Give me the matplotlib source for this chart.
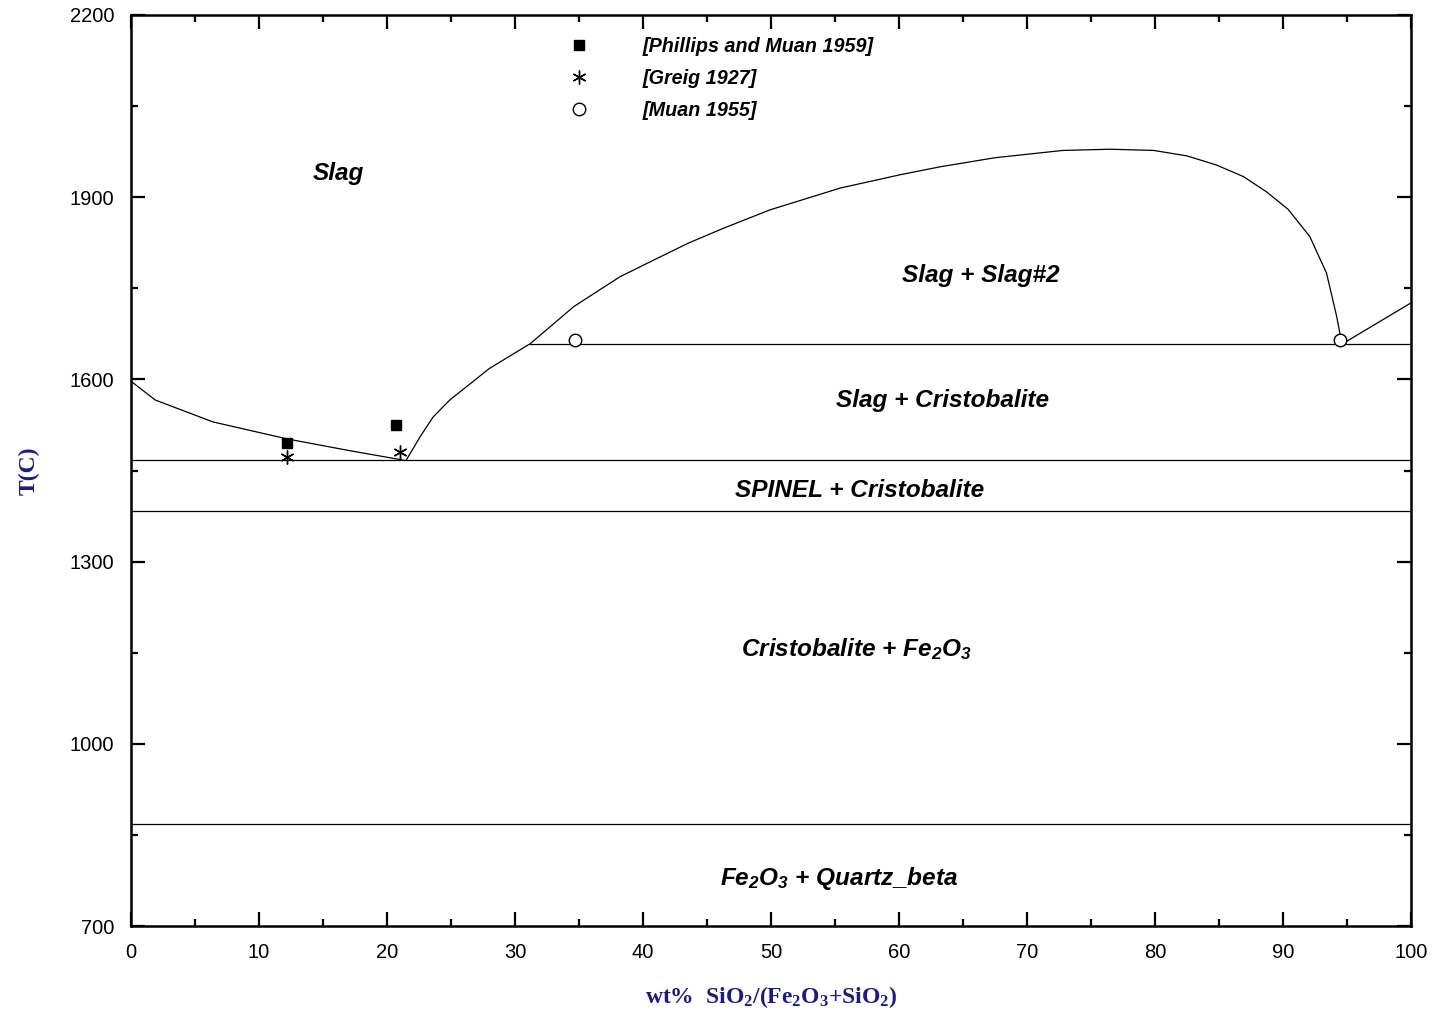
import matplotlib.pyplot as plt
from matplotlib.ticker import FixedLocator, MultipleLocator

plt.rcParams['font.family'] = ['Liberation Sans', 'DejaVu Sans']
plt.rcParams['mathtext.default'] = 'regular'

# liquidus on the Fe2O3 side
liq_left_x = [0, 1.9, 6.4, 12.2, 17.0, 21.3]
liq_left_t = [1597, 1566, 1530, 1502, 1483, 1467]

# cristobalite liquidus + miscibility gap
dome_x = [21.5, 22.6, 23.6, 24.9, 28.0, 31.2, 34.6, 38.2, 40.5, 43.5, 46.3, 49.9, 55.4,
          60.1, 63.2, 67.5, 72.8, 76.5, 79.9, 82.5, 84.8, 86.9, 88.7, 90.4, 92.1,
          93.4, 94.2, 94.6]
dome_t = [1467, 1506, 1538, 1566, 1618, 1659, 1720, 1769, 1793, 1824, 1849, 1879, 1915,
          1937, 1950, 1965, 1977, 1979, 1977, 1968, 1953, 1934, 1909, 1880, 1835,
          1775, 1703, 1658]

liq_right_x = [94.6, 97.3, 100]
liq_right_t = [1658, 1692, 1726]

# isotherms: (T, x start, x end)
iso_t = [1658, 1467, 1383, 868]
iso_x0 = [31.2, 0, 0, 0]
iso_x1 = [100, 100, 100, 100]

# experimental points
phillips_x = [12.2, 20.7]
phillips_t = [1495, 1525]
greig_x = [12.2, 21.0]
greig_t = [1472, 1480]
muan_x = [34.7, 94.45]
muan_t = [1665, 1665]

# phase field labels
field_names = ['Slag', 'Slag + Slag#2', 'Slag + Cristobalite', 'SPINEL + Cristobalite',
               'Cristobalite + Fe$_2$O$_3$', 'Fe$_2$O$_3$ + Quartz_beta']
field_x = [16.2, 66.4, 63.4, 56.9, 56.7, 55.3]
field_t = [1928, 1760, 1554, 1406, 1145, 767]

y_ticks = [700, 1000, 1300, 1600, 1900, 2200]
y_minor = [850, 1150, 1450, 1750, 2050]

fig = plt.figure(figsize=(14.34, 10.15), dpi=100)
ax = fig.add_axes([131/1434, 1-926/1015, 1280/1434, 911/1015])

ax.plot(liq_left_x, liq_left_t, color='black', lw=0.9)
ax.plot(dome_x, dome_t, color='black', lw=0.9)
ax.plot(liq_right_x, liq_right_t, color='black', lw=0.9)
for t, a, b in zip(iso_t, iso_x0, iso_x1):
    ax.plot([a, b], [t, t], color='black', lw=0.9)

ax.plot(phillips_x, phillips_t, ls='none', marker='s', ms=7.5, color='black',
        label='[Phillips and Muan 1959]')
ax.plot(greig_x, greig_t, ls='none', marker=(6, 2, 0), ms=10, mew=1, color='black',
        label='[Greig 1927]')
ax.plot(muan_x, muan_t, ls='none', marker='o', ms=9, mfc='white', mec='black', mew=1,
        label='[Muan 1955]')

for name, x, t in zip(field_names, field_x, field_t):
    ax.text(x, t, name, ha='center', va='baseline', fontsize=17.6,
            fontweight='bold', fontstyle='italic')

leg = ax.legend(loc='upper left', bbox_to_anchor=(0.342, 0.976), frameon=False,
                borderaxespad=0, borderpad=0, handlelength=1.0, handletextpad=2.75,
                labelspacing=0.66, prop={'size': 14.2, 'weight': 'bold', 'style': 'italic'})

ax.set_xlim(0, 100)
ax.set_ylim(700, 2200)
ax.xaxis.set_major_locator(MultipleLocator(10))
ax.xaxis.set_minor_locator(MultipleLocator(5))
ax.yaxis.set_major_locator(FixedLocator(y_ticks))
ax.yaxis.set_minor_locator(FixedLocator(y_minor))
ax.tick_params(which='both', direction='in', top=True, right=True, width=1.6,
               labelsize=14.5, pad=12)
ax.tick_params(which='major', length=10)
ax.tick_params(which='minor', length=5)
for sp in ax.spines.values():
    sp.set_linewidth(1.8)

navy = '#1c1c80'
ax.set_xlabel('wt%  SiO$_2$/(Fe$_2$O$_3$+SiO$_2$)', family='Liberation Serif',
              fontweight='bold', fontsize=17, color=navy)
ax.set_ylabel('T(C)', family='Liberation Serif', fontweight='bold', fontsize=17,
              color=navy)
ax.xaxis.set_label_coords(0.5, -0.064)
ax.yaxis.set_label_coords(-0.071, 0.5)

fig.savefig('out.png', dpi=100)
